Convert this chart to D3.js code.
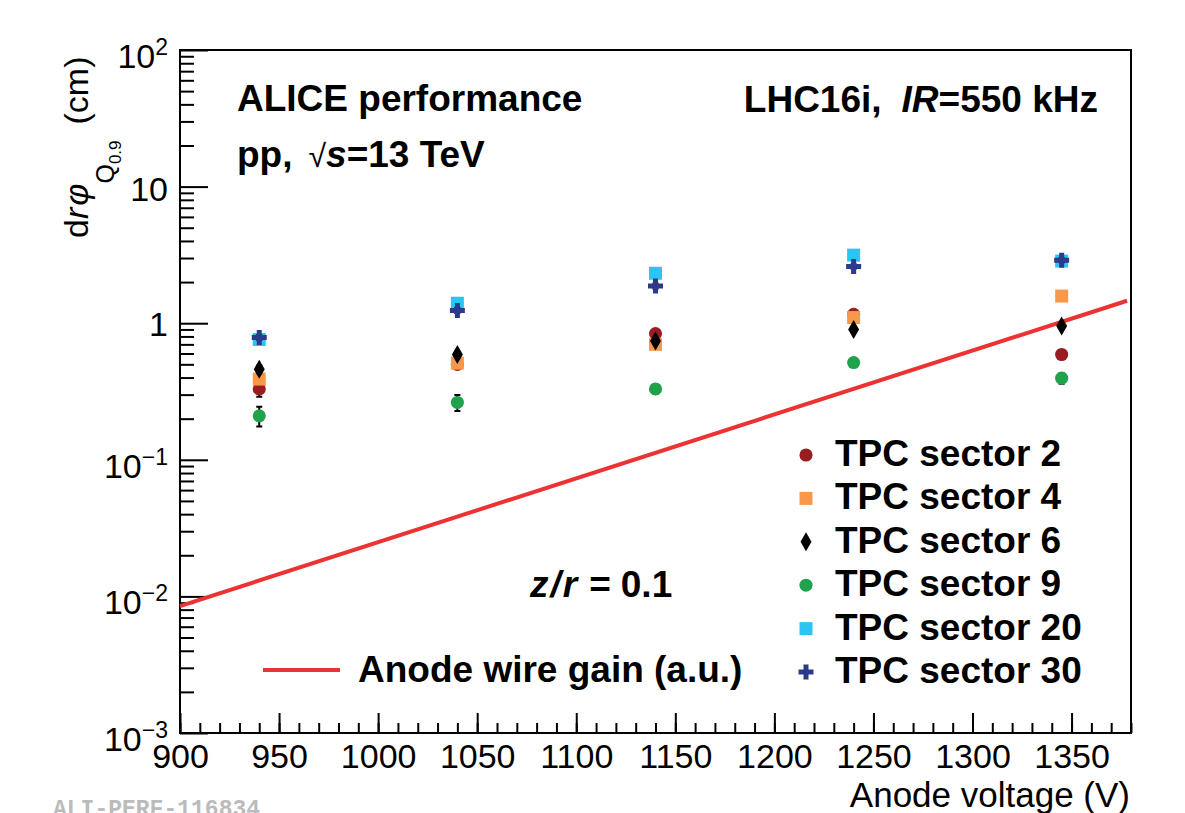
<!DOCTYPE html>
<html>
<head>
<meta charset="utf-8">
<script src="https://cdn.jsdelivr.net/npm/d3@7"></script>
<style>
  body { margin: 0; background: #fff; }
  svg { font-family: "Liberation Sans", Arial, Helvetica, sans-serif; }
</style>
</head>
<body>
<div id="chart"></div>
<script>
// Anode voltage points (V)
const voltages = [940, 1040, 1140, 1240, 1345];

// d r phi Q0.9 per sector (cm)
const sector2  = [0.33, 0.50, 0.84, 1.16, 0.59];
const sector4  = [0.39, 0.51, 0.70, 1.10, 1.58];
const sector6  = [0.46, 0.59, 0.74, 0.90, 0.955];
const sector9  = [0.21, 0.263, 0.33, 0.515, 0.396];
const sector20 = [0.76, 1.40, 2.32, 3.15, 2.85];
const sector30 = [0.785, 1.24, 1.87, 2.60, 2.89];

// errors
const err2  = [0.04, 0.03, 0.04, 0.05, 0.03];
const err4  = [0.03, 0.03, 0.03, 0.05, 0.05];
const err6  = [0.03, 0.03, 0.03, 0.04, 0.04];
const err9  = [0.035, 0.035, 0.025, 0.02, 0.035];
const err20 = [0.03, 0.05, 0.08, 0.1, 0.1];
const err30 = [0.03, 0.05, 0.08, 0.1, 0.1];

// anode wire gain (a.u.), straight line in log space
const gainVoltage = [900, 1378];
const gainValue = [0.0085, 1.46];

const sectorNames = ["TPC sector 2", "TPC sector 4", "TPC sector 6", "TPC sector 9", "TPC sector 20", "TPC sector 30"];
const xTicks = [900, 950, 1000, 1050, 1100, 1150, 1200, 1250, 1300, 1350];
const yExponents = [-3, -2, -1, 0, 1, 2];

class GainVisual {
    constructor(_config) {
        this.config = {
            parentElement: _config.parentElement,
            containerWidth: 1185,
            containerHeight: 813,
            margin: { top: 50, right: 54, bottom: 80, left: 180 }
        };
        this.series = [
            { name: sectorNames[0], values: sector2,  errs: err2,  color: "#981c21", shape: d3.symbolCircle,  size: 135 },
            { name: sectorNames[1], values: sector4,  errs: err4,  color: "#f7984a", shape: d3.symbolSquare,  size: 169 },
            { name: sectorNames[2], values: sector6,  errs: err6,  color: "#000000", shape: d3.symbolDiamond, size: 104 },
            { name: sectorNames[3], values: sector9,  errs: err9,  color: "#1fa24b", shape: d3.symbolCircle,  size: 135 },
            { name: sectorNames[4], values: sector20, errs: err20, color: "#2bc4f3", shape: d3.symbolSquare,  size: 169 },
            { name: sectorNames[5], values: sector30, errs: err30, color: "#2b3a8a", shape: d3.symbolCross,   size: 125 }
        ];
        this.initVis();
    }

    initVis() {
        let vis = this;
        let m = vis.config.margin;
        vis.width = vis.config.containerWidth - m.left - m.right;
        vis.height = vis.config.containerHeight - m.top - m.bottom;

        vis.root = d3.select(vis.config.parentElement)
            .append("svg")
            .attr("width", vis.config.containerWidth)
            .attr("height", vis.config.containerHeight);

        vis.svg = vis.root.append("g")
            .attr("transform", `translate(${m.left},${m.top})`);

        vis.xScale = d3.scaleLinear().domain([900, 1380]).range([0, vis.width]);
        vis.yScale = d3.scaleLog().domain([1e-3, 1e2]).range([vis.height, 0]);

        // minor x ticks every 10 V
        vis.svg.append("g")
            .attr("class", "x-minor")
            .attr("transform", `translate(0,${vis.height})`)
            .call(d3.axisBottom(vis.xScale).tickValues(d3.range(900, 1381, 10)).tickSize(-10).tickFormat(""));

        // major x ticks
        vis.svg.append("g")
            .attr("class", "x-axis")
            .attr("transform", `translate(0,${vis.height})`)
            .call(d3.axisBottom(vis.xScale).tickValues(xTicks).tickSize(-20).tickFormat(d3.format("d")));

        vis.svg.selectAll(".x-axis text")
            .attr("font-size", 34)
            .attr("fill", "#000")
            .attr("dy", "0.71em")
            .attr("y", 11);

        // minor y ticks
        let minorY = vis.yScale.ticks().filter(v => Math.abs(Math.log10(v) - Math.round(Math.log10(v))) > 1e-6);
        vis.svg.append("g")
            .attr("class", "y-minor")
            .call(d3.axisLeft(vis.yScale).tickValues(minorY).tickSize(-14).tickFormat(""));

        // major y ticks
        vis.svg.append("g")
            .attr("class", "y-axis")
            .call(d3.axisLeft(vis.yScale).tickValues(yExponents.map(e => Math.pow(10, e))).tickSize(-28).tickFormat(""));

        vis.svg.selectAll(".domain").remove();
        vis.svg.selectAll(".tick line").attr("stroke", "#000").attr("stroke-width", 2);

        // y tick labels with superscripts
        yExponents.forEach(e => {
            let y = vis.yScale(Math.pow(10, e));
            let t = vis.svg.append("text")
                .attr("x", -12)
                .attr("text-anchor", "end")
                .attr("font-size", 34);
            if (e === 0) {
                t.attr("y", y + 13).text("1");
            } else if (e === 1) {
                t.attr("y", y + 14).text("10");
            } else {
                t.attr("y", y + 18);
                t.append("tspan").text("10");
                t.append("tspan")
                    .attr("font-size", 23)
                    .attr("dy", -13)
                    .text(e < 0 ? "\u2212" + (-e) : String(e));
            }
        });

        // frame
        vis.svg.append("rect")
            .attr("x", 0).attr("y", 0)
            .attr("width", vis.width).attr("height", vis.height)
            .attr("fill", "none")
            .attr("stroke", "#000")
            .attr("stroke-width", 2);

        // gain line
        let gainData = gainVoltage.map((v, i) => ({ v: v, g: gainValue[i] }));
        vis.svg.append("path")
            .datum(gainData)
            .attr("fill", "none")
            .attr("stroke", "#ec3333")
            .attr("stroke-width", 4)
            .attr("d", d3.line().x(d => vis.xScale(d.v)).y(d => vis.yScale(d.g)));

        // data points with error bars
        vis.series.forEach(s => {
            let pts = voltages.map((v, i) => ({ v: v, y: s.values[i], e: s.errs[i] }));
            let g = vis.svg.append("g");
            g.selectAll(".err")
                .data(pts)
                .enter().append("path")
                .attr("stroke", "#000")
                .attr("stroke-width", 2)
                .attr("fill", "none")
                .attr("d", d => {
                    let x = vis.xScale(d.v);
                    let y0 = vis.yScale(d.y - d.e), y1 = vis.yScale(d.y + d.e);
                    return `M${x},${y0}V${y1}M${x - 3},${y0}H${x + 3}M${x - 3},${y1}H${x + 3}`;
                });
            g.selectAll(".pt")
                .data(pts)
                .enter().append("path")
                .attr("transform", d => `translate(${vis.xScale(d.v)},${vis.yScale(d.y)})`)
                .attr("d", d3.symbol().type(s.shape).size(s.size))
                .attr("fill", s.color);
        });

        // legend for sectors
        let legend = vis.root.append("g");
        vis.series.forEach((s, i) => {
            let y = 455 + i * 43.4;
            legend.append("path")
                .attr("transform", `translate(806,${y})`)
                .attr("d", d3.symbol().type(s.shape).size(s.size))
                .attr("fill", s.color);
            legend.append("text")
                .attr("x", 835)
                .attr("y", y + 11)
                .attr("font-size", 37)
                .attr("font-weight", "bold")
                .text(s.name);
        });

        // legend for gain line
        legend.append("line")
            .attr("x1", 263).attr("x2", 340)
            .attr("y1", 670).attr("y2", 670)
            .attr("stroke", "#ec3333")
            .attr("stroke-width", 4);
        legend.append("text")
            .attr("x", 358).attr("y", 682)
            .attr("font-size", 37)
            .attr("font-weight", "bold")
            .text("Anode wire gain (a.u.)");

        // labels
        vis.root.append("text")
            .attr("x", 237).attr("y", 111)
            .attr("font-size", 37).attr("font-weight", "bold")
            .text("ALICE performance");

        let pp = vis.root.append("text")
            .attr("x", 237).attr("y", 167)
            .attr("font-size", 37).attr("font-weight", "bold");
        pp.append("tspan").text("pp,");
        pp.append("tspan").attr("dx", 16).attr("font-weight", "normal").attr("font-size", 32).text("\u221A");
        pp.append("tspan").attr("font-style", "italic").text("s");
        pp.append("tspan").text("=13 TeV");

        let lhc = vis.root.append("text")
            .attr("x", 1098).attr("y", 112)
            .attr("text-anchor", "end")
            .attr("font-size", 37).attr("font-weight", "bold");
        lhc.append("tspan").text("LHC16i,");
        lhc.append("tspan").attr("dx", 20).attr("font-style", "italic").text("IR");
        lhc.append("tspan").text("=550 kHz");

        let zr = vis.root.append("text")
            .attr("x", 530).attr("y", 597)
            .attr("font-size", 37).attr("font-weight", "bold");
        zr.append("tspan").attr("font-style", "italic").text("z");
        zr.append("tspan").attr("font-style", "italic").attr("dx", 2).text("/");
        zr.append("tspan").attr("font-style", "italic").attr("dx", 2).text("r");
        zr.append("tspan").attr("dx", 12).text("=");
        zr.append("tspan").attr("dx", 10).text("0.1");

        // axis titles
        vis.root.append("text")
            .attr("x", 1130).attr("y", 807)
            .attr("text-anchor", "end")
            .attr("font-size", 35)
            .text("Anode voltage (V)");

        let yt = vis.root.append("text")
            .attr("transform", "translate(88,238) rotate(-90)")
            .attr("font-size", 34);
        yt.append("tspan").text("d");
        yt.append("tspan").attr("font-style", "italic").text("r");
        yt.append("tspan").attr("font-style", "italic").attr("dx", 2).text("\u03C6");
        yt.append("tspan").attr("font-size", 25).attr("dy", 26).text("Q");
        yt.append("tspan").attr("font-size", 17).attr("dy", 7).text("0.9");
        yt.append("tspan").attr("dy", -33).attr("dx", 16).text("(cm)");

        // figure id (cut by the bottom edge, as in the original)
        vis.root.append("text")
            .attr("x", 53).attr("y", 816)
            .attr("font-family", "'Liberation Mono', 'DejaVu Sans Mono', monospace")
            .attr("font-weight", "bold")
            .attr("font-size", 23)
            .attr("fill", "#bbbbbb")
            .text("ALI-PERF-116834");
    }
}

new GainVisual({ parentElement: "#chart" });
</script>
</body>
</html>
